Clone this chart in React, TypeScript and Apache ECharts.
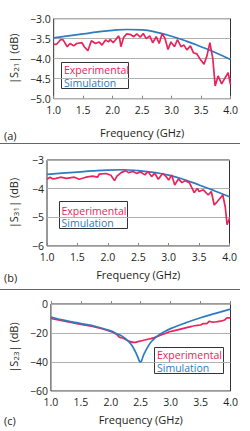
import React, { useEffect, useRef } from "react";
import * as echarts from "echarts";

// Panel (a): |S21|
const simFreqA = [1.0, 1.25, 1.5, 1.75, 2.0, 2.25, 2.5, 2.75, 3.0, 3.25, 3.5, 3.75, 4.0];
const simA = [-3.48, -3.43, -3.38, -3.33, -3.29, -3.27, -3.28, -3.34, -3.44, -3.56, -3.7, -3.85, -4.02];
const expFreqA = [
  1.0, 1.05, 1.12, 1.16, 1.23, 1.28, 1.34, 1.39, 1.48, 1.52, 1.58, 1.64, 1.71, 1.77, 1.82, 1.88,
  1.93, 1.96, 2.01, 2.1, 2.12, 2.14, 2.19, 2.24, 2.31, 2.36, 2.41, 2.47, 2.52, 2.57, 2.63, 2.68,
  2.74, 2.79, 2.84, 2.89, 2.94, 2.99, 3.05, 3.1, 3.16, 3.21, 3.26, 3.32, 3.37, 3.43, 3.48, 3.55,
  3.6, 3.65, 3.7, 3.74, 3.79, 3.85, 3.9, 3.96, 4.0,
];
const expA = [
  -3.64, -3.64, -3.52, -3.53, -3.7, -3.62, -3.68, -3.62, -3.6, -3.7, -3.8, -3.55, -3.62, -3.58, -3.66, -3.53,
  -3.58, -3.52, -3.6, -3.43, -3.5, -3.7, -3.46, -3.38, -3.4, -3.45, -3.38, -3.46, -3.37, -3.5, -3.43, -3.6,
  -3.45, -3.62, -3.37, -3.5, -3.77, -3.58, -3.7, -3.52, -3.7, -3.66, -3.78, -3.68, -3.85, -3.88, -4.0, -4.14,
  -3.93, -3.6, -4.0, -4.68, -4.43, -4.63, -4.5, -4.35, -4.65,
];

// Panel (b): |S31|
const simFreqB = [1.0, 1.25, 1.5, 1.75, 2.0, 2.25, 2.5, 2.75, 3.0, 3.25, 3.5, 3.75, 4.0];
const simB = [-3.5, -3.46, -3.42, -3.38, -3.35, -3.34, -3.37, -3.43, -3.53, -3.68, -3.87, -4.07, -4.28];
const expFreqB = [
  1.0, 1.05, 1.1, 1.15, 1.22, 1.32, 1.45, 1.53, 1.64, 1.75, 1.83, 1.86, 1.97, 2.05, 2.11, 2.15,
  2.22, 2.29, 2.34, 2.41, 2.48, 2.53, 2.61, 2.66, 2.72, 2.77, 2.83, 2.9, 2.95, 3.0, 3.05, 3.1,
  3.16, 3.22, 3.27, 3.34, 3.42, 3.47, 3.5, 3.57, 3.65, 3.7, 3.75, 3.8, 3.89, 3.93, 3.96, 4.0,
];
const expB = [
  -3.67, -3.6, -3.66, -3.64, -3.6, -3.64, -3.6, -3.67, -3.6, -3.56, -3.6, -3.49, -3.47, -3.53, -3.72, -3.56,
  -3.44, -3.37, -3.44, -3.4, -3.47, -3.41, -3.52, -3.4, -3.58, -3.46, -3.67, -3.47, -3.56, -3.7, -3.52, -3.87,
  -3.66, -3.79, -3.72, -3.79, -4.14, -3.99, -4.1, -4.04, -4.22, -4.1, -4.57, -4.45, -4.22, -4.63, -5.26, -5.03,
];

// Panel (c): |S23|
const simFreqC = [
  1.0, 1.25, 1.5, 1.75, 2.0, 2.1, 2.2, 2.3, 2.35, 2.4, 2.45, 2.48, 2.5, 2.52, 2.55, 2.6, 2.65,
  2.7, 2.8, 2.9, 3.0, 3.25, 3.5, 3.75, 4.0,
];
const simC = [
  -9, -11.5, -13.5, -15.5, -18.5, -20.5, -22.5, -26, -28.5, -32, -36.5, -39.5, -40, -38.5, -35, -31, -27.5,
  -25, -21.5, -19, -17, -13, -9.5, -6.5, -3.5,
];
const expFreqC = [
  1.0, 1.25, 1.5, 1.75, 2.0, 2.1, 2.15, 2.2, 2.3, 2.4, 2.45, 2.5, 2.6, 2.7, 2.8, 2.9, 3.0, 3.1,
  3.2, 3.3, 3.4, 3.5, 3.55, 3.6, 3.65, 3.7, 3.8, 3.9, 3.95, 4.0,
];
const expC = [
  -10, -12, -14, -16, -19, -21, -23, -23.5, -25.5, -26.5, -26, -25.5, -24.5, -23.5, -22, -20.5, -19, -18,
  -17, -16, -15, -14.5, -13.5, -13.5, -12, -12.5, -12, -11, -9.5, -9.5,
];

const xTicks = ["1.0", "1.5", "2.0", "2.5", "3.0", "3.5", "4.0"];
const legendNames = ["Experimental", "Simulation"];

const RED = "#e8245c";
const BLUE = "#2b7cc0";
const INK = "#231f20";
const FONT = "Open Sans";

const pairs = (xs: number[], ys: number[]) => xs.map((x, i) => [x, ys[i]]);
const minus = (s: string) => s.replace("-", "\u2212");

export default function App() {
  const ref = useRef<HTMLDivElement>(null);

  useEffect(() => {
    if (!ref.current) return;
    const chart = echarts.init(ref.current, null, { renderer: "svg" });

    const grids = [
      { left: 45.5, top: 18.7, width: 185, height: 80 },
      { left: 45.5, top: 160, width: 184, height: 86 },
      { left: 45.5, top: 304, width: 185, height: 87 },
    ];
    const titleGaps = [28, 22.5, 22.5];

    const xAxis = grids.map((_, i) => ({
      type: "value",
      gridIndex: i,
      min: 1,
      max: 4,
      interval: 0.5,
      axisLine: { show: false },
      axisTick: { show: true, inside: true, length: 3, lineStyle: { color: "#888" } },
      splitLine: { show: false },
      axisLabel: {
        margin: 5.5,
        fontFamily: FONT,
        fontSize: 10.5,
        color: INK,
        formatter: (v: number) => xTicks[Math.round((v - 1) / 0.5)] ?? "",
      },
      name: "Frequency (GHz)",
      nameLocation: "middle",
      nameGap: titleGaps[i],
      nameTextStyle: { fontFamily: FONT, fontSize: 11, color: INK },
    }));

    const yCfg = [
      { min: -5, max: -3, interval: 0.5, dec: 1, sub: "21" },
      { min: -6, max: -3, interval: 1, dec: 0, sub: "31" },
      { min: -60, max: 0, interval: 20, dec: 0, sub: "23" },
    ];

    const yAxis = yCfg.map((c, i) => ({
      type: "value",
      gridIndex: i,
      min: c.min,
      max: c.max,
      interval: c.interval,
      axisLine: { show: false },
      axisTick: { show: false },
      splitLine: { show: true, lineStyle: { color: "#b0b0b0", width: 1 } },
      axisLabel: {
        margin: 3,
        fontFamily: FONT,
        fontSize: 10.5,
        color: INK,
        formatter: (v: number) => minus(v.toFixed(c.dec)),
      },
      name: `|S{sub|${c.sub}}| (dB)`,
      nameLocation: "middle",
      nameGap: 28,
      nameRotate: 90,
      nameTextStyle: {
        fontFamily: FONT,
        fontSize: 11,
        color: INK,
        rich: {
          sub: { fontFamily: FONT, fontSize: 8, color: INK, verticalAlign: "bottom", padding: [3, 0, 0, 0] },
        },
      },
    }));

    const line = (name: string, data: number[][], color: string, idx: number, smooth: boolean) => ({
      name,
      type: "line",
      xAxisIndex: idx,
      yAxisIndex: idx,
      data,
      symbol: "none",
      smooth,
      lineStyle: { color, width: 1.7 },
    });

    const series = [
      line("Simulation", pairs(simFreqA, simA), BLUE, 0, true),
      line("Experimental", pairs(expFreqA, expA), RED, 0, false),
      line("Simulation", pairs(simFreqB, simB), BLUE, 1, true),
      line("Experimental", pairs(expFreqB, expB), RED, 1, false),
      line("Experimental", pairs(expFreqC, expC), RED, 2, true),
      line("Simulation", pairs(simFreqC, simC), BLUE, 2, true),
    ];

    const legendBox = (x: number, y: number, w: number, h: number, tx: number, ty1: number, ty2: number) => ({
      type: "group",
      z: 100,
      children: [
        {
          type: "rect",
          shape: { x, y, width: w, height: h },
          style: { fill: "#fff", stroke: "#333", lineWidth: 1 },
        },
        {
          type: "text",
          x: tx,
          y: ty1,
          style: { text: legendNames[0], fill: RED, font: `10.5px ${FONT}`, textVerticalAlign: "middle" },
        },
        {
          type: "text",
          x: tx,
          y: ty2,
          style: { text: legendNames[1], fill: BLUE, font: `10.5px ${FONT}`, textVerticalAlign: "middle" },
        },
      ],
    });

    const panelLabel = (t: string, y: number) => ({
      type: "text",
      x: 4,
      y,
      style: { text: t, fill: INK, font: `11px ${FONT}`, textVerticalAlign: "middle" },
    });

    const sep = (y: number) => ({
      type: "line",
      shape: { x1: 0, y1: y, x2: 240, y2: y },
      style: { stroke: "#666", lineWidth: 1 },
    });

    chart.setOption({
      animation: false,
      backgroundColor: "#fff",
      grid: grids.map((g) => ({ ...g, show: true, borderColor: "#333", borderWidth: 1, backgroundColor: "transparent" })),
      xAxis,
      yAxis,
      series,
      graphic: [
        legendBox(61.5, 62.5, 67, 26, 64, 70, 82.5),
        legendBox(59.5, 201.5, 68, 27, 61.5, 210.5, 223),
        legendBox(154.5, 347.5, 69, 26, 157, 355, 367.5),
        panelLabel("(a)", 135.5),
        panelLabel("(b)", 277),
        panelLabel("(c)", 420),
        sep(143.5),
        sep(289.5),
      ],
    });

    return () => chart.dispose();
  }, []);

  return (
    <div
      ref={ref}
      style={{ position: "absolute", left: 0, top: 0, width: 250, height: 431 }}
    />
  );
}
